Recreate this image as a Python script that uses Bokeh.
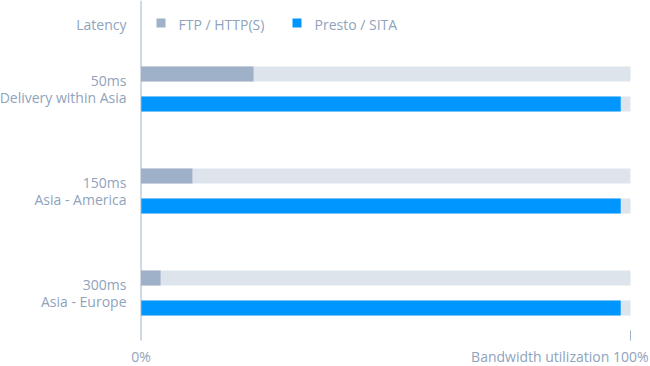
from bokeh.plotting import figure
from bokeh.models import ColumnDataSource, Range1d
from bokeh.core.properties import value
from bokeh.embed import file_html
from bokeh.resources import INLINE

# ---- data ----
latency = ["50ms", "150ms", "300ms"]
routes = ["Delivery within Asia", "Asia - America", "Asia - Europe"]
series_names = ["FTP / HTTP(S)", "Presto / SITA"]
ftp_values = [23, 10.5, 4]
presto_values = [98, 98, 98]
full_scale = [100, 100, 100]
header_label = "Latency"
axis_start_label = "0%"
axis_end_label = "Bandwidth utilization 100%"

# ---- style / layout ----
W, H = 650, 366
PX_PER_PCT = 4.895
ZERO_PX = 140.5
GROUP_TOP = 88.5
GROUP_STEP = 102
BAR_OFF = 15
BAR_H = 15
FONT = value("Open Sans")
FS = "14px"
TXT = "#8fa3bd"
C_FTP = "#9fb1c8"
C_PRESTO = "#0096ff"
C_BG = "#dde4ec"
C_AXIS = "#a0b2c9"


def px(p):
    return (p - ZERO_PX) / PX_PER_PCT


centers = [GROUP_TOP + GROUP_STEP * i for i in range(len(latency))]
ftp_y = [c - BAR_OFF for c in centers]
presto_y = [c + BAR_OFF for c in centers]

p = figure(width=W, height=H,
           x_range=Range1d(px(0), px(W)), y_range=Range1d(H, 0),
           x_axis_type=None, y_axis_type=None,
           output_backend="svg", toolbar_location=None,
           min_border=0, min_border_left=0, min_border_right=0,
           min_border_top=0, min_border_bottom=0)
p.grid.visible = False
p.outline_line_color = None
p.background_fill_color = "white"
p.border_fill_color = "white"

src = ColumnDataSource(dict(ftp_y=ftp_y, presto_y=presto_y, ftp=ftp_values,
                            presto=presto_values, full=full_scale,
                            lat_y=[c - 8.5 for c in centers],
                            route_y=[c + 8.5 for c in centers],
                            latency=latency, routes=routes))

# background tracks
p.hbar(y="ftp_y", left=0, right="full", height=BAR_H, source=src,
       fill_color=C_BG, line_color=None)
p.hbar(y="presto_y", left=0, right="full", height=BAR_H, source=src,
       fill_color=C_BG, line_color=None)
# values
p.hbar(y="ftp_y", left=0, right="ftp", height=BAR_H, source=src,
       fill_color=C_FTP, line_color=None)
p.hbar(y="presto_y", left=0, right="presto", height=BAR_H, source=src,
       fill_color=C_PRESTO, line_color=None)

# category labels
lab_x = px(126)
p.text(x=lab_x, y="lat_y", text="latency", source=src, text_font=FONT,
       text_font_size=FS, text_color=TXT, text_align="right",
       text_baseline="middle")
p.text(x=lab_x, y="route_y", text="routes", source=src, text_font=FONT,
       text_font_size=FS, text_color=TXT, text_align="right",
       text_baseline="middle")

# header + legend
p.text(x=[lab_x], y=[24], text=[header_label], text_font=FONT,
       text_font_size=FS, text_color=TXT, text_align="right",
       text_baseline="middle")
p.scatter(x=[px(160.5), px(296.5)], y=[22.5, 22.5], marker="square", size=9,
          fill_color=[C_FTP, C_PRESTO], line_color=None)
p.text(x=[px(178), px(314)], y=[24, 24], text=series_names, text_font=FONT,
       text_font_size=FS, text_color=TXT, text_align="left",
       text_baseline="middle")

# axis line and end tick
p.segment(x0=[0], y0=[0], x1=[0], y1=[340], line_color=C_AXIS, line_width=1)
p.segment(x0=[full_scale[0]], y0=[330], x1=[full_scale[0]], y1=[340],
          line_color=C_AXIS, line_width=1)

# axis labels
p.text(x=[0], y=[356], text=[axis_start_label], text_font=FONT,
       text_font_size=FS, text_color=TXT, text_align="center",
       text_baseline="middle")
p.text(x=[px(648)], y=[356], text=[axis_end_label], text_font=FONT,
       text_font_size=FS, text_color=TXT, text_align="right",
       text_baseline="middle")

open("out.html", "w").write(file_html(p, INLINE))
